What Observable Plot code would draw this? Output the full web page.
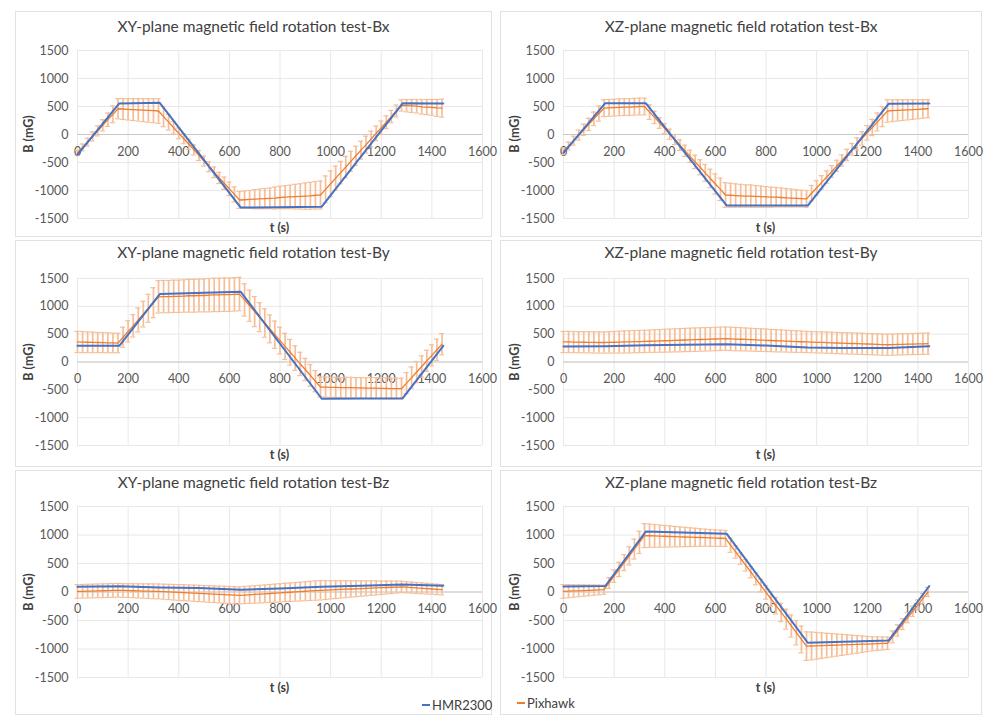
<!DOCTYPE html>
<html><head><meta charset="utf-8">
<script src="https://cdn.jsdelivr.net/npm/d3@7"></script>
<script src="https://cdn.jsdelivr.net/npm/@observablehq/plot@0.6"></script>
<style>
body{margin:0;background:#fff;}
#wrap{position:relative;width:986px;height:715px;overflow:hidden;font-family:Lato,sans-serif;background:#fff;}
.box{position:absolute;border:1px solid #e2e2e2;box-sizing:border-box;}
.panel{position:absolute;}
.lbl{position:absolute;white-space:nowrap;line-height:1;color:#404040;}
.title{font-size:15.5px;}
.axl{font-size:12.5px;font-weight:bold;color:#404040;}
.leg{font-size:13px;color:#404040;}
.legline{position:absolute;height:2px;}
</style></head>
<body><div id="wrap"></div>
<script>
// ---------- data ----------
const titles = [
  "XY-plane magnetic field rotation test-Bx",
  "XZ-plane magnetic field rotation test-Bx",
  "XY-plane magnetic field rotation test-By",
  "XZ-plane magnetic field rotation test-By",
  "XY-plane magnetic field rotation test-Bz",
  "XZ-plane magnetic field rotation test-Bz"
];
const seriesNames = ["HMR2300", "Pixhawk"];
const xTicks = [0,200,400,600,800,1000,1200,1400,1600];
const yTicks = [-1500,-1000,-500,0,500,1000,1500];

// Pixhawk sample times (s)
const tGrid = [0,20,40,60,80,100,120,140,160,180,200,220,240,260,280,300,320,340,360,380,400,420,440,460,480,500,520,540,560,580,600,620,640,660,680,700,720,740,760,780,800,820,840,860,880,900,920,940,960,980,1000,1020,1040,1060,1080,1100,1120,1140,1160,1180,1200,1220,1240,1260,1280,1300,1320,1340,1360,1380,1400,1420,1440];

// HMR2300 (corner points)
const hmrT_std = [0,165,325,645,965,1285,1445];
const hmr_xyBx = [-360,555,565,-1305,-1290,560,555];
const hmr_xzBx = [-330,560,560,-1270,-1270,550,555];
const hmr_xyBy = [290,290,1220,1260,-660,-650,290];
const hmrT_xzBy = [0,165,325,645,800,880,965,1100,1285,1445];
const hmr_xzBy = [280,285,300,320,295,280,260,250,250,285];
const hmrT_xyBz = [0,165,325,480,645,800,965,1120,1285,1445];
const hmr_xyBz = [90,100,80,70,40,60,90,110,130,110];
const hmr_xzBz = [95,105,1060,1020,-890,-850,105];

// Pixhawk mean values
const px_xyBx = [-330,-230,-135,-35,65,165,265,360,460, 455,450,445,440,435,430,425,420,
 320,220,120,20,-75,-175,-275,-375,-475,-575,-675,-775,-870,-970,-1070,-1170,
 -1165,-1160,-1155,-1150,-1145,-1140,-1135,-1125,-1120,-1115,-1110,-1105,-1100,-1095,-1085,-1080,
 -980,-880,-780,-680,-580,-480,-380,-280,-180,-80,20,120,220,320,420,520,
 515,510,505,495,490,485,475,470];
const px_xzBx = [-300,-205,-110,-10,85,180,280,375,470, 475,480,485,490,490,495,500,500,
 400,305,205,105,5,-90,-190,-290,-390,-490,-585,-685,-785,-885,-980,-1080,
 -1085,-1090,-1095,-1100,-1100,-1105,-1110,-1115,-1120,-1120,-1125,-1130,-1135,-1140,-1145,-1150,
 -1050,-955,-855,-760,-660,-560,-465,-365,-265,-170,-70,30,125,225,320,420,
 425,430,435,440,445,450,455,460];
const px_xyBy = [360,358,355,352,350,348,345,342,340, 445,550,650,755,860,965,1065,1170,
 1175,1175,1180,1180,1185,1190,1190,1195,1195,1200,1205,1205,1210,1210,1215,1220,
 1115,1010,905,805,700,595,490,385,280,175,70,-35,-135,-240,-345,-450,
 -450,-455,-455,-460,-460,-460,-465,-465,-470,-470,-470,-475,-475,-480,-480,-480,
 -380,-280,-180,-80,20,120,220,320];
const px_xzBy = [360,360,358,356,355,354,352,350,350, 352,355,357,360,362,365,367,370,
 373,376,379,382,385,388,391,395,398,401,404,407,410,413,416,420,
 416,412,409,405,401,397,394,390,386,382,379,375,371,367,364,360,
 357,354,351,348,345,341,338,335,332,329,326,323,320,316,313,310,
 312,315,317,320,322,325,327,330];
const px_xyBz = [10,12,15,17,20,22,25,27,30, 27,25,22,20,17,15,12,10,
 6,1,-3,-8,-12,-16,-21,-25,-30,-34,-38,-43,-47,-51,-56,-60,
 -54,-49,-43,-38,-32,-26,-21,-15,-9,-4,2,7,13,19,24,30,
 34,38,41,45,49,53,56,60,64,68,71,75,79,83,86,90,
 84,78,71,65,59,53,46,40];
const px_xzBz = [10,14,18,21,25,29,33,36,40, 159,278,396,515,634,753,871,990,
 987,984,981,978,974,971,968,965,962,959,956,953,949,946,943,940,
 822,704,586,468,349,231,113,-5,-123,-241,-359,-477,-596,-714,-832,-950,
 -947,-944,-941,-938,-934,-931,-928,-925,-922,-919,-916,-913,-909,-906,-903,-900,
 -788,-675,-563,-450,-338,-225,-113,0];

// Pixhawk error half-widths
const err_xyBx = [50,60,70,80,90,100,120,150,180, 185,190,195,200,205,210,215,220,
 180,140,110,95,90,90,90,90,90,90,95,100,110,120,135,150,
 155,160,170,175,180,185,195,200,205,210,220,225,235,240,245,250,
 240,230,215,200,190,180,170,160,150,140,130,120,115,110,105,100,
 110,115,120,130,135,140,150,160];
const err_xzBx = [60,70,80,90,100,110,120,135,150, 150,150,150,150,150,150,150,150,
 130,110,95,90,90,90,95,100,110,120,135,150,165,180,200,220,
 215,210,205,200,200,195,190,185,180,175,170,165,160,155,150,150,
 140,130,120,110,105,100,100,100,105,110,120,130,145,160,180,200,
 195,190,185,180,175,170,165,160];
const err_xyBy = [190,190,185,185,180,180,180,175,175, 180,190,200,215,230,250,270,290,
 290,290,290,290,290,295,295,295,295,300,300,300,300,300,300,300,
 290,280,270,260,255,250,245,240,235,230,220,210,200,195,190,180,
 180,180,180,180,185,185,185,185,185,190,190,190,190,190,190,190,
 190,190,190,190,190,190,190,190];
const err_xzBy = [190,190,190,190,190,190,190,190,190, 192,194,196,198,200,200,200,200,
 200,202,204,205,206,207,208,209,210,210,210,210,210,210,210,210,
 210,210,208,206,205,204,203,202,200,200,198,196,195,194,192,190,
 190,190,190,190,190,190,190,190,190,190,190,190,190,190,190,190,
 190,190,190,190,190,190,190,190];
const err_xyBz = [120,120,120,120,120,120,120,120,120, 120,120,122,124,126,128,130,130,
 132,134,136,138,140,141,142,143,144,145,146,147,148,149,150,150,
 151,152,154,155,156,158,159,160,161,162,164,165,166,168,169,170,
 166,161,157,153,149,144,140,136,131,127,123,119,114,110,105,100,
 99,97,96,95,94,92,91,90];
const err_xzBz = [120,115,110,105,100,95,90,85,80, 95,110,125,140,160,175,195,210,
 205,200,195,190,185,180,175,170,165,160,155,150,148,145,142,140,
 125,110,100,100,100,105,110,120,130,145,160,175,195,215,235,250,
 245,235,225,215,205,195,185,175,165,155,145,135,125,120,115,110,
 105,100,95,90,90,85,85,80];

// ---------- layout ----------
const colors = {hmr:"#4472C4", px:"#ED7D31", err:"#F6BE98", grid:"#e8e8e8", zero:"#c8c8c8", tick:"#595959"};
const cols = [{bx:15,bw:477,x0:77,x1:482},{bx:500,bw:482,x0:563,x1:968}];
const rows = [{by:11,bh:226,yt:50,yb:218,title:27,xl:228},
              {by:240,bh:227,yt:278,yb:445,title:253,xl:455},
              {by:470,bh:245,yt:506,yb:677,title:483,xl:688}];

const panels = [
  {hT:hmrT_std, h:hmr_xyBx, p:px_xyBx, e:err_xyBx},
  {hT:hmrT_std, h:hmr_xzBx, p:px_xzBx, e:err_xzBx},
  {hT:hmrT_std, h:hmr_xyBy, p:px_xyBy, e:err_xyBy},
  {hT:hmrT_xzBy, h:hmr_xzBy, p:px_xzBy, e:err_xzBy},
  {hT:hmrT_xyBz, h:hmr_xyBz, p:px_xyBz, e:err_xyBz},
  {hT:hmrT_std, h:hmr_xzBz, p:px_xzBz, e:err_xzBz}
];

const wrap = document.getElementById("wrap");
function addLabel(txt, x, y, cls, rot){
  const d = document.createElement("div");
  d.className = "lbl " + cls;
  d.textContent = txt;
  d.style.left = x + "px"; d.style.top = y + "px";
  d.style.transform = "translate(-50%,-50%)" + (rot ? " rotate(" + rot + "deg)" : "");
  wrap.appendChild(d);
}

const cap = 10;
panels.forEach((pn, k) => {
  const c = cols[k % 2], r = rows[Math.floor(k / 2)];
  const box = document.createElement("div");
  box.className = "box";
  Object.assign(box.style, {left:c.bx+"px", top:r.by+"px", width:c.bw+"px", height:r.bh+"px"});
  wrap.appendChild(box);

  const pxRows = tGrid.map((t, i) => ({t, v: pn.p[i], e: pn.e[i]}));
  const hRows = pn.hT.map((t, i) => ({t, v: pn.h[i]}));

  const chart = Plot.plot({
    width: c.bw, height: r.bh,
    marginLeft: c.x0 - c.bx, marginRight: c.bx + c.bw - c.x1,
    marginTop: r.yt - r.by, marginBottom: r.by + r.bh - r.yb,
    style: {fontFamily: "Lato, sans-serif", background: "transparent", overflow: "visible"},
    x: {domain: [0, 1600], axis: null},
    y: {domain: [-1500, 1500], axis: null},
    marks: [
      Plot.ruleX(xTicks, {x: d => d, stroke: colors.grid, strokeWidth: 1}),
      Plot.ruleY(yTicks, {y: d => d, stroke: colors.grid, strokeWidth: 1}),
      Plot.ruleY([0], {y: d => d, stroke: colors.zero, strokeWidth: 1}),
      Plot.text(yTicks, {y: d => d, frameAnchor: "left", textAnchor: "end", dx: -9, text: d => String(d), fontSize: 12.5, fill: colors.tick}),
      Plot.text(xTicks, {x: d => d, y: d => 0, dy: 17, text: d => String(d), fontSize: 12.5, fill: colors.tick}),
      Plot.ruleX(pxRows, {x: "t", y1: d => d.v - d.e, y2: d => d.v + d.e, stroke: colors.err, strokeWidth: 1.7}),
      Plot.ruleY(pxRows, {y: d => d.v + d.e, x1: d => d.t - cap, x2: d => d.t + cap, stroke: colors.err, strokeWidth: 1.2}),
      Plot.ruleY(pxRows, {y: d => d.v - d.e, x1: d => d.t - cap, x2: d => d.t + cap, stroke: colors.err, strokeWidth: 1.2}),
      Plot.line(pxRows, {x: "t", y: "v", stroke: colors.px, strokeWidth: 1.3}),
      Plot.line(hRows, {x: "t", y: "v", stroke: colors.hmr, strokeWidth: 2})
    ]
  });
  const holder = document.createElement("div");
  holder.className = "panel";
  holder.style.left = c.bx + "px"; holder.style.top = r.by + "px";
  holder.appendChild(chart);
  wrap.appendChild(holder);

  const cx = c.bx + c.bw / 2;
  addLabel(titles[k], cx, r.title, "title");
  addLabel("t (s)", (c.x0 + c.x1) / 2, r.xl, "axl");
  addLabel("B (mG)", c.x0 - 48, (r.yt + r.yb) / 2, "axl", -90);
});

// legend
function legendItem(name, color, lx, y){
  const ln = document.createElement("div");
  ln.className = "legline";
  Object.assign(ln.style, {left: lx + "px", top: (y - 1) + "px", width: "8px", background: color});
  wrap.appendChild(ln);
  const d = document.createElement("div");
  d.className = "lbl leg";
  d.textContent = name;
  d.style.left = (lx + 10) + "px"; d.style.top = y + "px";
  d.style.transform = "translateY(-50%)";
  wrap.appendChild(d);
}
legendItem(seriesNames[0], colors.hmr, 422, 705);
legendItem(seriesNames[1], colors.px, 517, 703);
</script></body></html>
